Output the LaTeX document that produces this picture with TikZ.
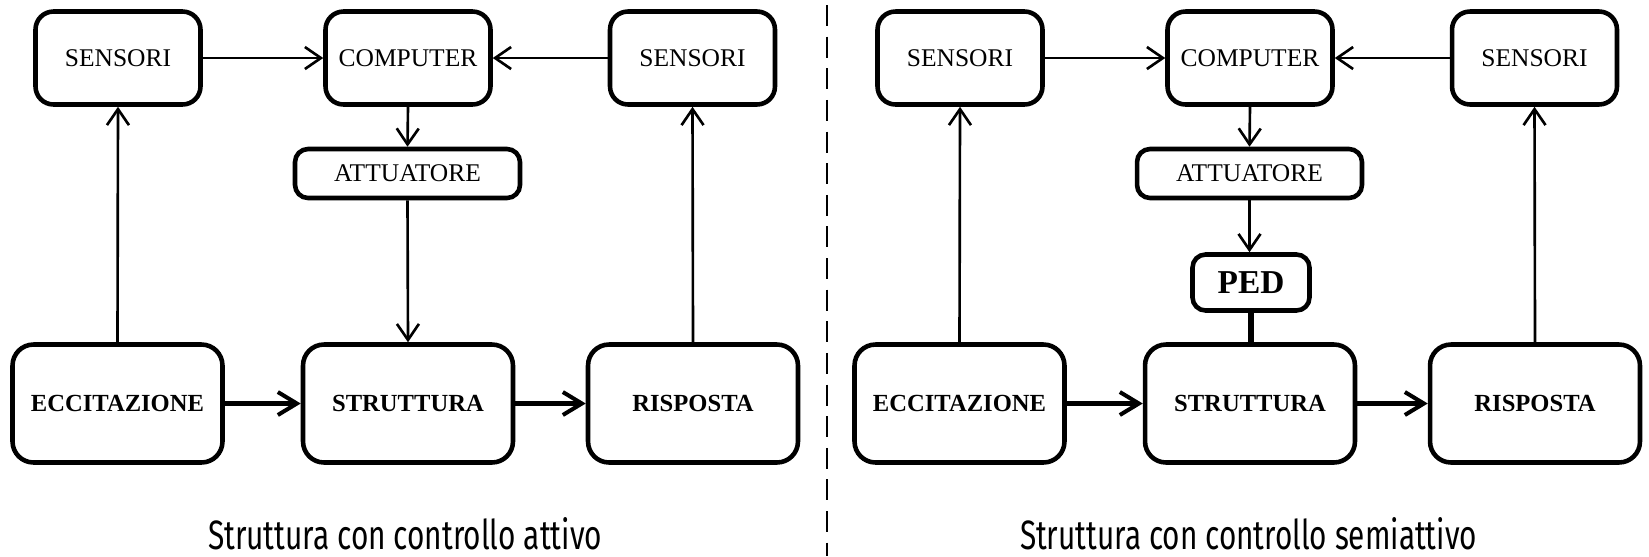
\documentclass[tikz,border=0pt]{standalone}
\usepackage{fontspec}
\setmainfont{Liberation Serif}
\setsansfont{Fira Sans}
\usetikzlibrary{positioning,arrows.meta}
\newcommand{\titolo}[2]{\resizebox{#1}{0.64cm}{\sffamily #2}}

\begin{document}
\begin{tikzpicture}[x=0.02cm,y=-0.02cm,
    blocco/.style={draw,line width=2.6pt,rounded corners=0.36cm,minimum width=3.3cm,minimum height=1.86cm,inner sep=0pt,font=\fontsize{14.5}{16}\selectfont},
    attbox/.style={blocco,minimum width=4.5cm,minimum height=0.98cm,rounded corners=0.26cm},
    grande/.style={blocco,minimum width=4.2cm,minimum height=2.36cm,rounded corners=0.42cm,font=\fontsize{14}{16}\selectfont\bfseries},
    pedbox/.style={blocco,minimum width=2.34cm,minimum height=1.12cm,rounded corners=0.26cm,font=\fontsize{19}{21}\selectfont\bfseries},
    freccia/.style={line width=1.5pt,-{Straight Barb[length=0.32cm,width=0.44cm]}},
    frecciona/.style={line width=2.3pt,-{Straight Barb[length=0.38cm,width=0.46cm]}}
  ]
    \useasboundingbox (0,0) rectangle (1649,556);

    % the two schemes share the same skeleton
    \foreach \p/\dx in {a/0,b/842} {
      \node[blocco] (sensA\p) at (118+\dx,58) {SENSORI};
      \node[blocco] (comp\p) at (408+\dx,58) {COMPUTER};
      \node[blocco] (sensB\p) at (692.5+\dx,58) {SENSORI};
      \node[attbox] (att\p) at (407.5+\dx,173.5) {ATTUATORE};
      \node[grande] (ecc\p) at (117.5+\dx,403.5) {ECCITAZIONE};
      \node[grande] (str\p) at (408+\dx,403.5) {STRUTTURA};
      \node[grande] (risp\p) at (693+\dx,403.5) {RISPOSTA};

      \draw[freccia] (sensA\p) -- (comp\p);
      \draw[freccia] (sensB\p) -- (comp\p);
      \draw[freccia] (comp\p.south) -- (att\p.north);
      \draw[freccia] (ecc\p.north) -- (sensA\p.south);
      \draw[freccia] (risp\p.north) -- (sensB\p.south);
      \draw[frecciona] (ecc\p) -- (str\p);
      \draw[frecciona] (str\p) -- (risp\p);
    }

    % active control
    \draw[freccia] (atta.south) -- (stra.north);

    % semi-active control
    \node[pedbox] (pedb) at (1251,282.5) {PED};
    \draw[freccia] (attb.south) -- (attb.south |- pedb.north);
    \draw[line width=3pt] (pedb.south) -- (pedb.south |- strb.north);

    \node[anchor=base,inner sep=0pt] (tita) at (405,549) {\titolo{7.88cm}{Struttura con controllo attivo}};
    \node[anchor=base,inner sep=0pt] (titb) at (1248.5,549) {\titolo{9.14cm}{Struttura con controllo semiattivo}};

    \draw[line width=1.5pt,dash pattern=on 12pt off 6pt] (827,5) -- (827,556);
  \end{tikzpicture}
\end{document}
